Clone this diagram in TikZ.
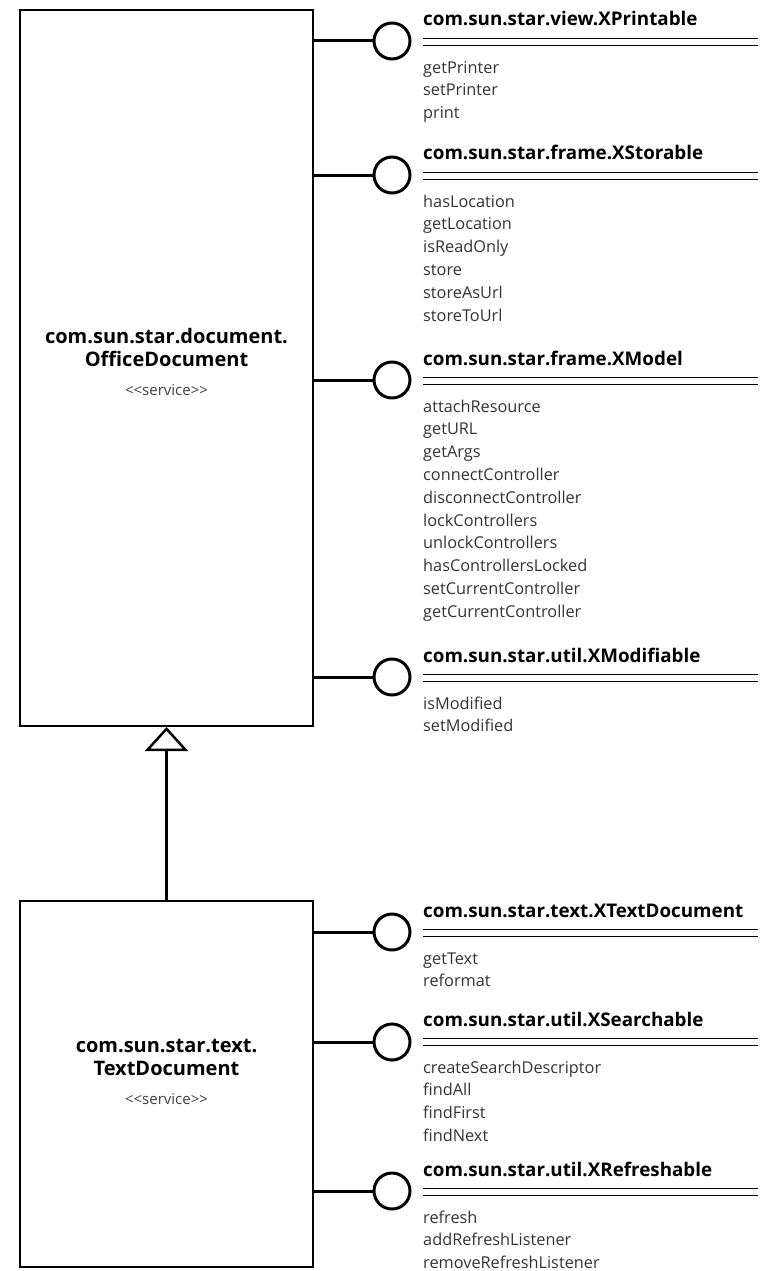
\documentclass[tikz,border=0pt]{standalone}
\usepackage{fontspec}
\setmainfont{Open Sans}
\usetikzlibrary{arrows.meta,positioning}
\begin{document}
\begin{tikzpicture}[x=1pt, y=-1pt,
    service/.style={draw, line width=2pt, minimum width=293pt, inner sep=0pt},
    title/.style={align=center, inner sep=0pt, font=\bfseries\fontsize{20}{23}\selectfont},
    stereo/.style={inner sep=0pt, text=black!75, font=\fontsize{15}{17}\selectfont},
    lolly/.style={draw, circle, line width=3pt, minimum size=36pt, inner sep=0pt},
    stem/.style={line width=3pt},
    iface/.style={anchor=base west, inner sep=0pt, font=\bfseries\fontsize{18.8}{21}\selectfont},
    rule/.style={line width=1.3pt},
    ops/.style={anchor=north west, inner sep=0pt, align=left, text=black!80, font=\fontsize{16.3}{22.8}\selectfont},
    gen/.style={line width=3pt, -{Triangle[open, length=24pt, width=43pt, line width=2.5pt]}}]
        \useasboundingbox (0,0) rectangle (766,1271);
        \node[service, minimum height=716pt] (odoc) at (166.5,368) {};
        \node[title] (odocname) at (166.5,347) {com.sun.star.document.\\OfficeDocument};
        \node[stereo, below=18pt of odocname] (odocst) {<{}<service>{}>};
        \node[service, minimum height=366pt] (tdoc) at (166.5,1084) {};
        \node[title] (tdocname) at (166.5,1057) {com.sun.star.text.\\TextDocument};
        \node[stereo, below=18pt of tdocname] (tdocst) {<{}<service>{}>};
        \draw[gen] (tdoc.north) -- (odoc.south);
        \node[lolly] (prC) at (392,41) {};
        \draw[stem] (odoc.east |- prC) -- (prC);
        \node[iface] (prH) at (423,26) {com.sun.star.view.XPrintable};
        \draw[rule] (423,38.5) -- (758,38.5);
        \draw[rule] (423,45.5) -- (758,45.5);
        \node[ops] (prM) at (423,57) {\strut getPrinter\\setPrinter\\print};
        \node[lolly] (stC) at (392,175) {};
        \draw[stem] (odoc.east |- stC) -- (stC);
        \node[iface] (stH) at (423,160) {com.sun.star.frame.XStorable};
        \draw[rule] (423,172.5) -- (758,172.5);
        \draw[rule] (423,179.5) -- (758,179.5);
        \node[ops] (stM) at (423,191) {\strut hasLocation\\getLocation\\isReadOnly\\store\\storeAsUrl\\storeToUrl};
        \node[lolly] (moC) at (392,380) {};
        \draw[stem] (odoc.east |- moC) -- (moC);
        \node[iface] (moH) at (423,365) {com.sun.star.frame.XModel};
        \draw[rule] (423,377.5) -- (758,377.5);
        \draw[rule] (423,384.5) -- (758,384.5);
        \node[ops] (moM) at (423,396) {\strut attachResource\\getURL\\getArgs\\connectController\\disconnectController\\lockControllers\\unlockControllers\\hasControllersLocked\\setCurrentController\\getCurrentController};
        \node[lolly] (mfC) at (392,677) {};
        \draw[stem] (odoc.east |- mfC) -- (mfC);
        \node[iface] (mfH) at (423,662) {com.sun.star.util.XModifiable};
        \draw[rule] (423,674.5) -- (758,674.5);
        \draw[rule] (423,681.5) -- (758,681.5);
        \node[ops] (mfM) at (423,693) {\strut isModified\\setModified};
        \node[lolly] (tdC) at (392,932) {};
        \draw[stem] (tdoc.east |- tdC) -- (tdC);
        \node[iface] (tdH) at (423,917) {com.sun.star.text.XTextDocument};
        \draw[rule] (423,929.5) -- (758,929.5);
        \draw[rule] (423,936.5) -- (758,936.5);
        \node[ops] (tdM) at (423,948) {\strut getText\\reformat};
        \node[lolly] (seC) at (392,1042) {};
        \draw[stem] (tdoc.east |- seC) -- (seC);
        \node[iface] (seH) at (423,1026) {com.sun.star.util.XSearchable};
        \draw[rule] (423,1038.5) -- (758,1038.5);
        \draw[rule] (423,1045.5) -- (758,1045.5);
        \node[ops] (seM) at (423,1057) {\strut createSearchDescriptor\\findAll\\findFirst\\findNext};
        \node[lolly] (rfC) at (392,1191) {};
        \draw[stem] (tdoc.east |- rfC) -- (rfC);
        \node[iface] (rfH) at (423,1176) {com.sun.star.util.XRefreshable};
        \draw[rule] (423,1188.5) -- (758,1188.5);
        \draw[rule] (423,1195.5) -- (758,1195.5);
        \node[ops] (rfM) at (423,1207) {\strut refresh\\addRefreshListener\\removeRefreshListener};
\end{tikzpicture}
\end{document}
